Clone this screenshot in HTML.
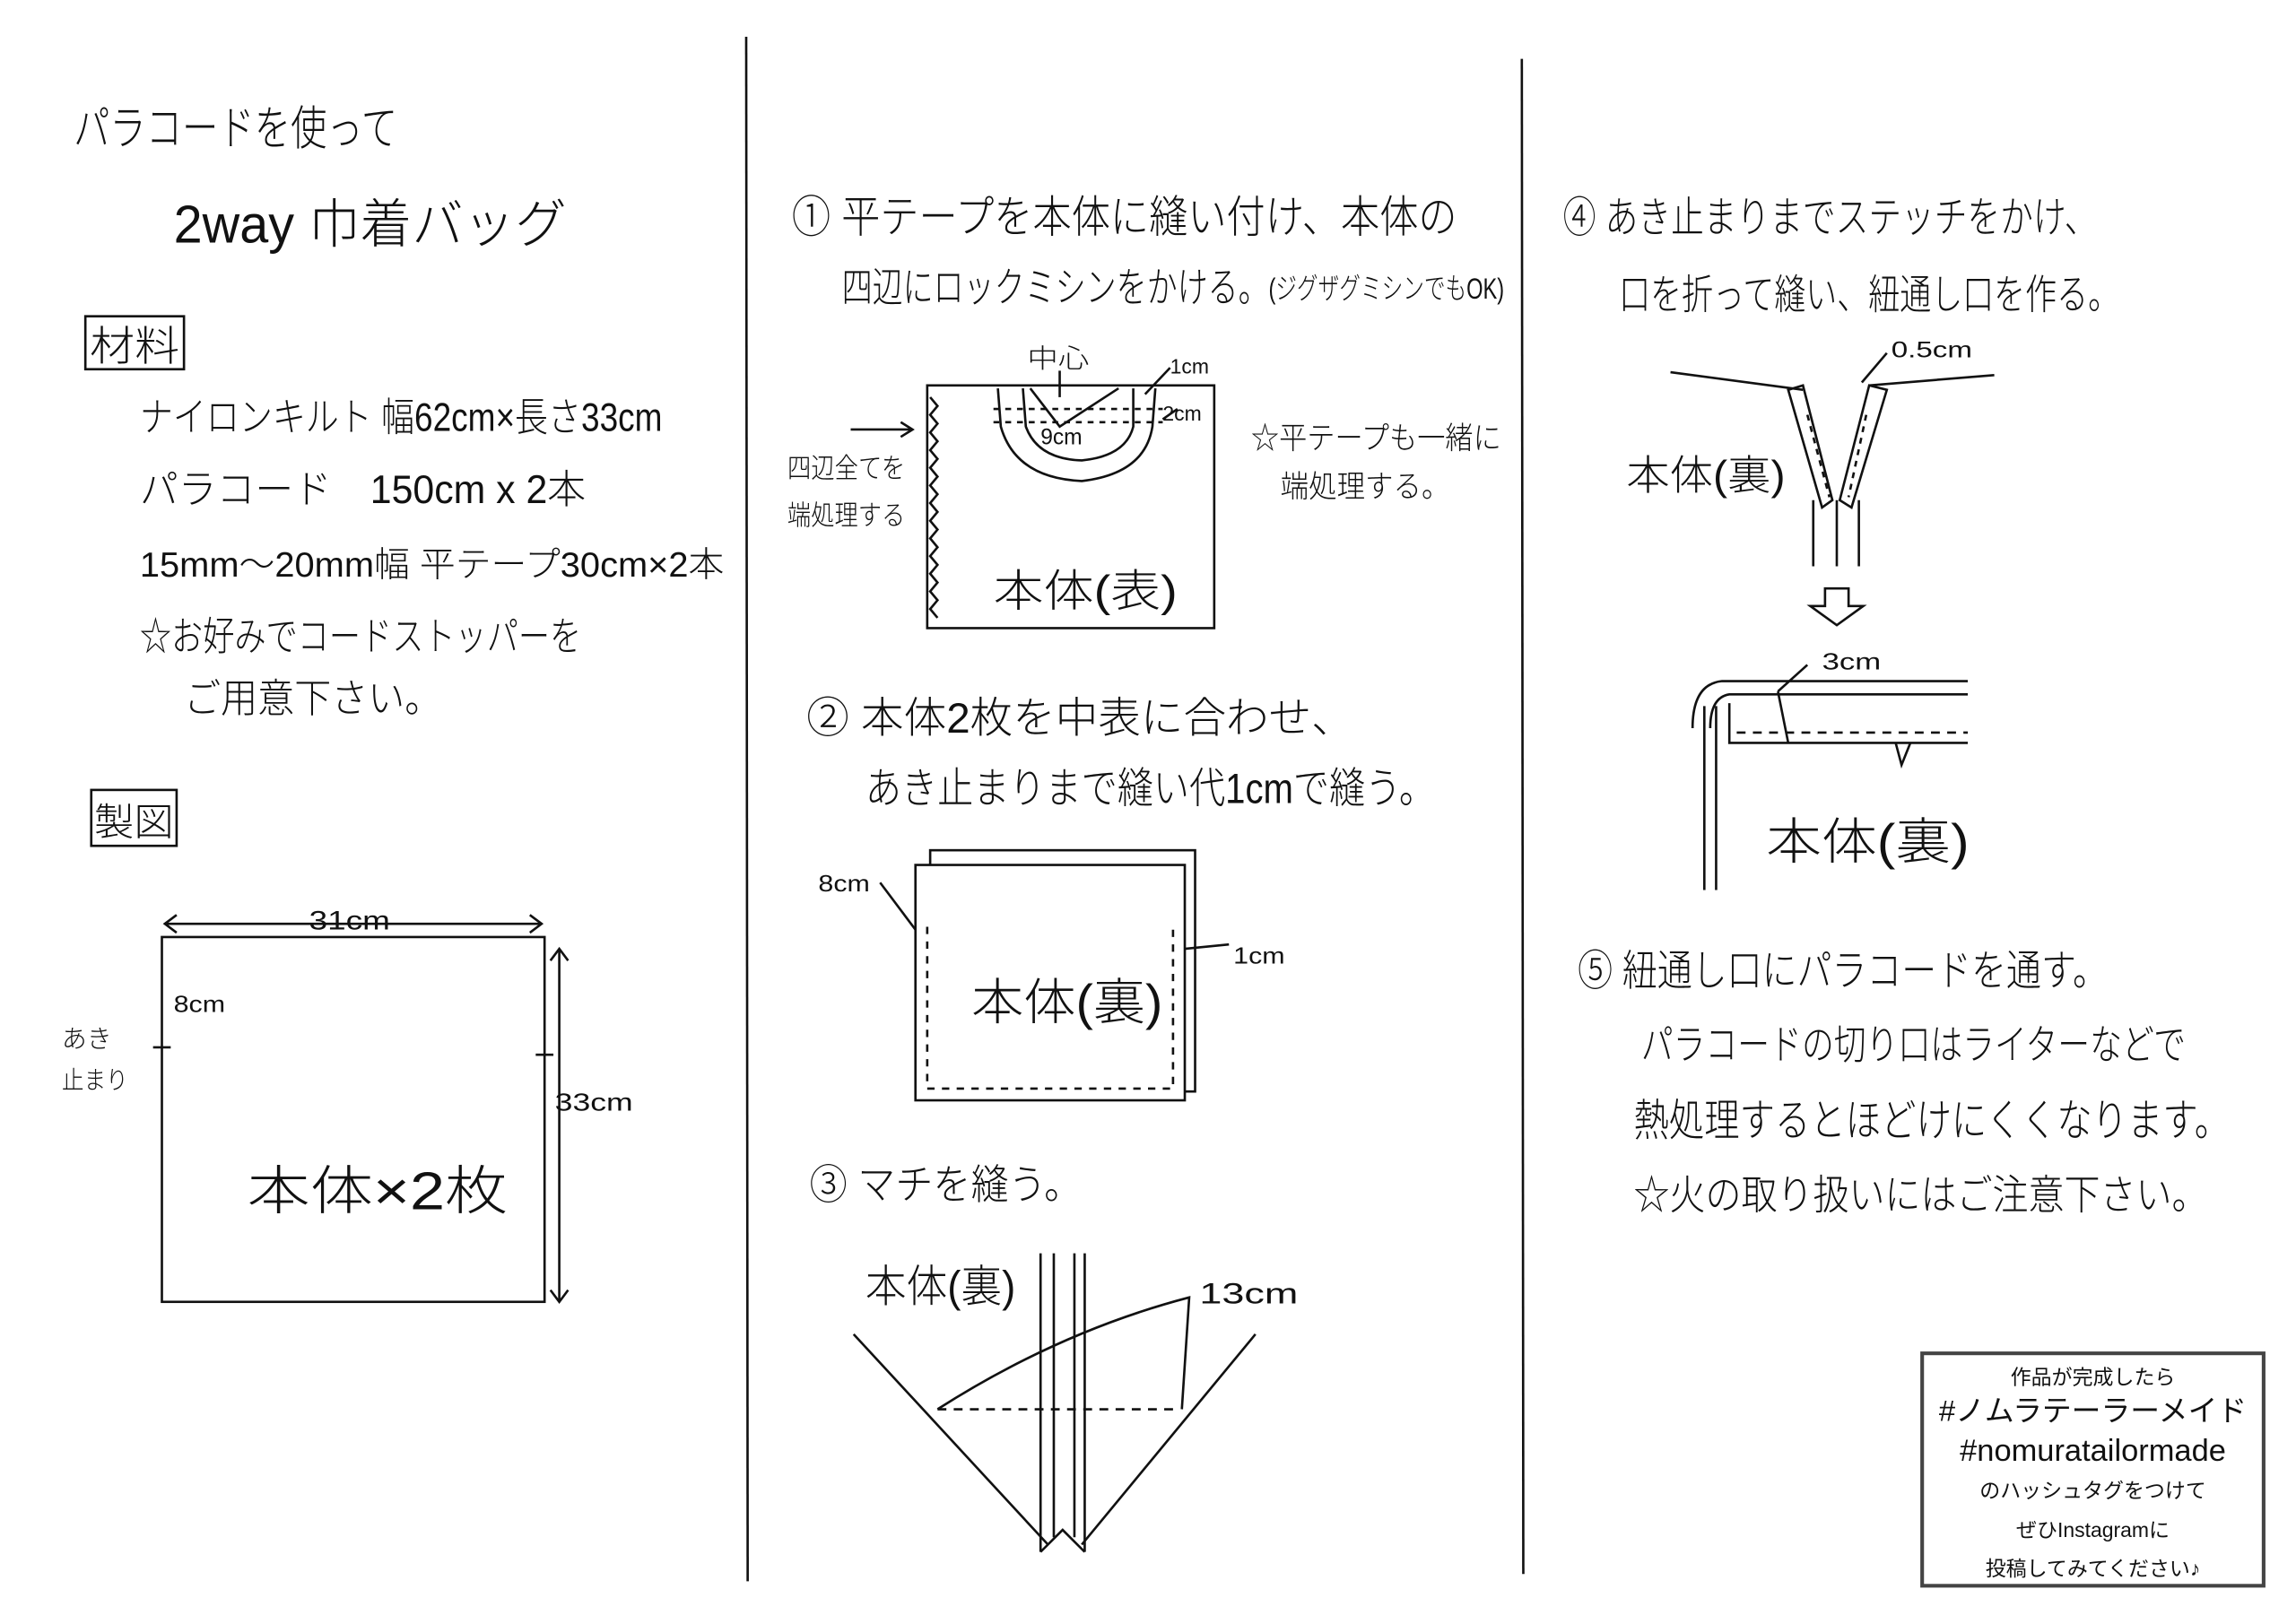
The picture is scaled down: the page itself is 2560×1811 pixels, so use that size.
<!DOCTYPE html>
<html><head><meta charset="utf-8"><style>
html,body{margin:0;padding:0;background:#fff}
svg{display:block}
text{font-family:"Liberation Sans","Noto Sans CJK JP",sans-serif;fill:#111;font-weight:300}
</style></head><body>
<svg width="2560" height="1811" viewBox="0 0 1560 1104" preserveAspectRatio="none" xmlns="http://www.w3.org/2000/svg">
<rect width="1560" height="1104" fill="#fff"/>
<g stroke="#111" stroke-width="1.6" fill="none">
<line x1="507" y1="25" x2="508" y2="1075"/>
<line x1="1034" y1="40" x2="1035" y2="1070"/>
<rect x="58" y="215" width="67" height="36"/>
<rect x="62" y="537" width="58" height="38"/>
<rect x="110" y="637" width="260" height="248"/>
<line x1="112" y1="628" x2="368" y2="628"/><path d="M120 622 L112 628 L120 634 M360 622 L368 628 L360 634"/>
<line x1="380" y1="645" x2="380" y2="885"/><path d="M374 653 L380 645 L386 653 M374 877 L380 885 L386 877"/>
<line x1="104" y1="712" x2="116" y2="712"/><line x1="364" y1="717" x2="376" y2="717"/>
<rect x="630" y="262" width="195" height="165"/>
<path d="M632 270 l5 6 l-5 6 l5 6 l-5 6 l5 6 l-5 6 l5 6 l-5 6 l5 6 l-5 6 l5 6 l-5 6 l5 6 l-5 6 l5 6 l-5 6 l5 6 l-5 6 l5 6 l-5 6 l5 6 l-5 6 l5 6 l-5 6 l5 6"/>
<path d="M678 264 L680 290 Q690 325 735 327 Q778 322 783 290 L785 264"/>
<path d="M695 264 L697 290 Q705 312 735 313 Q765 310 770 290 L770 264"/>
<path d="M700 264 L720 290 L760 264"/>
<line x1="720" y1="252" x2="720" y2="270"/>
<path d="M675 278 H790 M675 287 H790" stroke-dasharray="4 4"/>
<path d="M578 292 H620 M612 287 L620 292 L612 297"/>
<path d="M778 268 L795 250 M790 285 L800 278"/>
<rect x="632" y="578" width="180" height="164"/>
<rect x="622" y="588" width="183" height="160" fill="#fff"/>
<path d="M630 630 V740 H797 V630" stroke-dasharray="5 5"/>
<path d="M598 600 L622 632"/>
<path d="M805 645 L835 642"/>
<path d="M580 907 L712 1050 M853 907 L735 1050"/>
<path d="M707 852 V1055 M716 852 V1045 M730 852 V1045 M737 852 V1055 M707 1055 L722 1040 L737 1055"/>
<line x1="637" y1="958" x2="800" y2="958" stroke-dasharray="6 5"/>
<path d="M637 958 Q720 905 808 882 L803 958"/>
<path d="M1135 253 L1225 265 M1270 262 L1355 255"/>
<path d="M1215 265 L1225 262 L1245 340 L1238 345 Z M1270 262 L1282 265 L1258 345 L1250 340 Z"/>
<path d="M1228 282 L1243 338 M1268 282 L1256 338" stroke-dasharray="4 4"/>
<path d="M1232 340 V385 M1248 340 V385 M1263 340 V385"/>
<path d="M1265 260 L1282 240"/>
<path d="M1240 400 H1256 V412 H1266 L1248 425 L1230 412 H1240 Z"/>
<path d="M1337 463 H1170 Q1150 465 1150 495 M1337 472 H1175 Q1162 474 1162 495"/>
<path d="M1158 480 V605 M1166 480 V605"/>
<path d="M1175 478 V505 H1337"/>
<line x1="1180" y1="498" x2="1337" y2="498" stroke-dasharray="6 5"/>
<path d="M1208 470 L1228 452 M1208 470 L1215 505 M1288 505 L1292 520 L1298 505"/>
<rect x="1306" y="920" width="232" height="158" stroke="#444" stroke-width="2.5"/>
</g>
<g>
<text x="50" y="98" font-size="32" textLength="220" lengthAdjust="spacingAndGlyphs">パラコードを使って</text>
<text x="118" y="165" font-size="36" textLength="267" lengthAdjust="spacingAndGlyphs">2way 巾着バッグ</text>
<text x="61" y="245" font-size="28" textLength="61" lengthAdjust="spacingAndGlyphs">材料</text>
<text x="95" y="293" font-size="27" textLength="355" lengthAdjust="spacingAndGlyphs">ナイロンキルト 幅62cm×長さ33cm</text>
<text x="95" y="342" font-size="27" textLength="303" lengthAdjust="spacingAndGlyphs">パラコード　150cm x 2本</text>
<text x="95" y="392" font-size="24" textLength="397" lengthAdjust="spacingAndGlyphs">15mm～20mm幅 平テープ30cm×2本</text>
<text x="95" y="442" font-size="27" textLength="300" lengthAdjust="spacingAndGlyphs">☆お好みでコードストッパーを</text>
<text x="125" y="484" font-size="27" textLength="175" lengthAdjust="spacingAndGlyphs">ご用意下さい。</text>
<text x="64" y="568" font-size="26" textLength="54" lengthAdjust="spacingAndGlyphs">製図</text>
<text x="210" y="632" font-size="18" textLength="55" lengthAdjust="spacingAndGlyphs">31cm</text>
<text x="118" y="688" font-size="16" textLength="35" lengthAdjust="spacingAndGlyphs">8cm</text>
<text x="42" y="712" font-size="17">あき</text>
<text x="42" y="740" font-size="17" textLength="45" lengthAdjust="spacingAndGlyphs">止まり</text>
<text x="377" y="755" font-size="17" textLength="53" lengthAdjust="spacingAndGlyphs">33cm</text>
<text x="168" y="822" font-size="36" textLength="177" lengthAdjust="spacingAndGlyphs">本体×2枚</text>

<text x="538" y="158" font-size="30" textLength="452" lengthAdjust="spacingAndGlyphs">① 平テープを本体に縫い付け、本体の</text>
<text x="572" y="205" font-size="28" textLength="290" lengthAdjust="spacingAndGlyphs">四辺にロックミシンをかける。</text>
<text x="862" y="203" font-size="20" textLength="160" lengthAdjust="spacingAndGlyphs">(ジグザグミシンでもOK)</text>
<text x="698" y="250" font-size="18" textLength="42" lengthAdjust="spacingAndGlyphs">中心</text>
<text x="795" y="254" font-size="14">1cm</text>
<text x="790" y="286" font-size="14">2cm</text>
<text x="707" y="302" font-size="15">9cm</text>
<text x="535" y="325" font-size="19" textLength="80" lengthAdjust="spacingAndGlyphs">四辺全てを</text>
<text x="535" y="357" font-size="19" textLength="80" lengthAdjust="spacingAndGlyphs">端処理する</text>
<text x="850" y="305" font-size="21" textLength="170" lengthAdjust="spacingAndGlyphs">☆平テープも一緒に</text>
<text x="870" y="338" font-size="21" textLength="115" lengthAdjust="spacingAndGlyphs">端処理する。</text>
<text x="675" y="412" font-size="30" textLength="125" lengthAdjust="spacingAndGlyphs">本体(表)</text>

<text x="548" y="498" font-size="29" textLength="372" lengthAdjust="spacingAndGlyphs">② 本体2枚を中表に合わせ、</text>
<text x="588" y="546" font-size="29" textLength="387" lengthAdjust="spacingAndGlyphs">あき止まりまで縫い代1cmで縫う。</text>
<text x="556" y="606" font-size="16" textLength="35" lengthAdjust="spacingAndGlyphs">8cm</text>
<text x="838" y="655" font-size="16" textLength="35" lengthAdjust="spacingAndGlyphs">1cm</text>
<text x="660" y="693" font-size="34" textLength="130" lengthAdjust="spacingAndGlyphs">本体(裏)</text>
<text x="550" y="815" font-size="28" textLength="185" lengthAdjust="spacingAndGlyphs">③ マチを縫う。</text>
<text x="588" y="885" font-size="30" textLength="102" lengthAdjust="spacingAndGlyphs">本体(裏)</text>
<text x="815" y="886" font-size="20" textLength="67" lengthAdjust="spacingAndGlyphs">13cm</text>

<text x="1062" y="158" font-size="29" textLength="363" lengthAdjust="spacingAndGlyphs">④ あき止まりまでステッチをかけ、</text>
<text x="1100" y="210" font-size="28" textLength="340" lengthAdjust="spacingAndGlyphs">口を折って縫い、紐通し口を作る。</text>
<text x="1285" y="243" font-size="15" textLength="55" lengthAdjust="spacingAndGlyphs">0.5cm</text>
<text x="1105" y="333" font-size="28" textLength="108" lengthAdjust="spacingAndGlyphs">本体(裏)</text>
<text x="1238" y="455" font-size="16" textLength="40" lengthAdjust="spacingAndGlyphs">3cm</text>
<text x="1200" y="584" font-size="34" textLength="138" lengthAdjust="spacingAndGlyphs">本体(裏)</text>
<text x="1072" y="670" font-size="29" textLength="360" lengthAdjust="spacingAndGlyphs">⑤ 紐通し口にパラコードを通す。</text>
<text x="1115" y="720" font-size="28" textLength="370" lengthAdjust="spacingAndGlyphs">パラコードの切り口はライターなどで</text>
<text x="1110" y="772" font-size="30" textLength="405" lengthAdjust="spacingAndGlyphs">熱処理するとほどけにくくなります。</text>
<text x="1110" y="822" font-size="28" textLength="390" lengthAdjust="spacingAndGlyphs">☆火の取り扱いにはご注意下さい。</text>
</g>
<g text-anchor="middle">
<text x="1422" y="941" font-size="14" style="font-weight:400">作品が完成したら</text>
<text x="1422" y="966" font-size="20" style="font-weight:400">#ノムラテーラーメイド</text>
<text x="1422" y="993" font-size="21" style="font-weight:400">#nomuratailormade</text>
<text x="1422" y="1018" font-size="14" style="font-weight:400">のハッシュタグをつけて</text>
<text x="1422" y="1045" font-size="14" style="font-weight:400">ぜひInstagramに</text>
<text x="1422" y="1071" font-size="14" style="font-weight:400">投稿してみてください♪</text>
</g>
</svg>
</body></html>
